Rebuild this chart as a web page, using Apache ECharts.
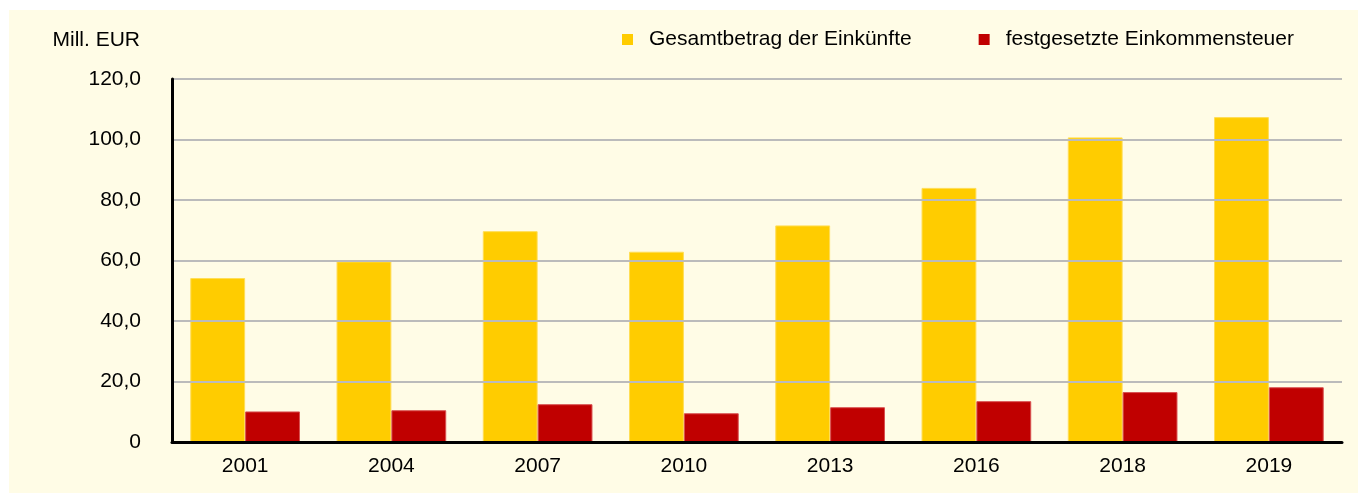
<!DOCTYPE html>
<html>
<head>
<meta charset="utf-8">
<script src="https://cdn.jsdelivr.net/npm/echarts@6/dist/echarts.min.js"></script>
<style>
  html, body { margin: 0; padding: 0; background: #ffffff; }
  #chart { width: 1358px; height: 493px; }
</style>
</head>
<body>
<div id="chart"></div>
<script>
const years = ['2001', '2004', '2007', '2010', '2013', '2016', '2018', '2019'];
const gesamtbetrag = [54.2, 59.7, 69.7, 62.9, 71.6, 84.0, 100.7, 107.4];
const einkommensteuer = [10.1, 10.5, 12.5, 9.5, 11.5, 13.5, 16.5, 18.1];
const seriesNames = ['Gesamtbetrag der Einkünfte', 'festgesetzte Einkommensteuer'];
const unitLabel = 'Mill. EUR';

const FONT = '"Liberation Sans", Arial, sans-serif';
const chart = echarts.init(document.getElementById('chart'), null, { renderer: 'canvas' });

chart.setOption({
  backgroundColor: '#ffffff',
  animation: false,
  graphic: [
    {
      type: 'rect',
      z: -10,
      silent: true,
      shape: { x: 9, y: 10, width: 1349, height: 483 },
      style: { fill: '#FFFCE6' }
    },
    {
      type: 'text',
      silent: true,
      x: 140,
      y: 40,
      style: {
        text: unitLabel,
        fontFamily: FONT,
        fontSize: 21,
        fill: '#000000',
        align: 'right',
        verticalAlign: 'middle'
      }
    }
  ],
  legend: {
    left: 622,
    top: 29,
    padding: 0,
    icon: 'rect',
    itemWidth: 11,
    itemHeight: 11,
    itemGap: 67,
    itemStyle: { borderWidth: 0 },
    textStyle: {
      fontFamily: FONT,
      fontSize: 21,
      lineHeight: 21,
      color: '#000000',
      padding: [0, 0, 0, 11]
    },
    data: seriesNames
  },
  grid: {
    left: 172,
    right: 16,
    top: 79,
    bottom: 51,
    containLabel: false
  },
  xAxis: {
    type: 'category',
    data: years,
    axisLine: { show: true, lineStyle: { color: '#000000', width: 3 } },
    axisTick: { show: false },
    axisLabel: {
      fontFamily: FONT,
      fontSize: 21,
      lineHeight: 21,
      color: '#000000',
      margin: 14
    },
    z: 5
  },
  yAxis: {
    type: 'value',
    min: 0,
    max: 120,
    interval: 20,
    axisLine: { show: true, lineStyle: { color: '#000000', width: 3 } },
    axisTick: { show: false },
    axisLabel: {
      fontFamily: FONT,
      fontSize: 21,
      color: '#000000',
      margin: 31,
      formatter: function (v) {
        return v === 0 ? '0' : v.toFixed(1).replace('.', ',');
      }
    },
    splitLine: { show: true, lineStyle: { color: '#BBBBBB', width: 2 } },
    z: 5
  },
  series: [
    {
      name: seriesNames[0],
      type: 'bar',
      data: gesamtbetrag,
      barGap: '0%',
      barCategoryGap: '25%',
      itemStyle: { color: '#FFCC00', borderColor: '#FFDD55', borderWidth: 1 }
    },
    {
      name: seriesNames[1],
      type: 'bar',
      data: einkommensteuer,
      barGap: '0%',
      barCategoryGap: '25%',
      itemStyle: { color: '#C00000', borderColor: '#D85050', borderWidth: 1 }
    }
  ]
});
</script>
</body>
</html>
